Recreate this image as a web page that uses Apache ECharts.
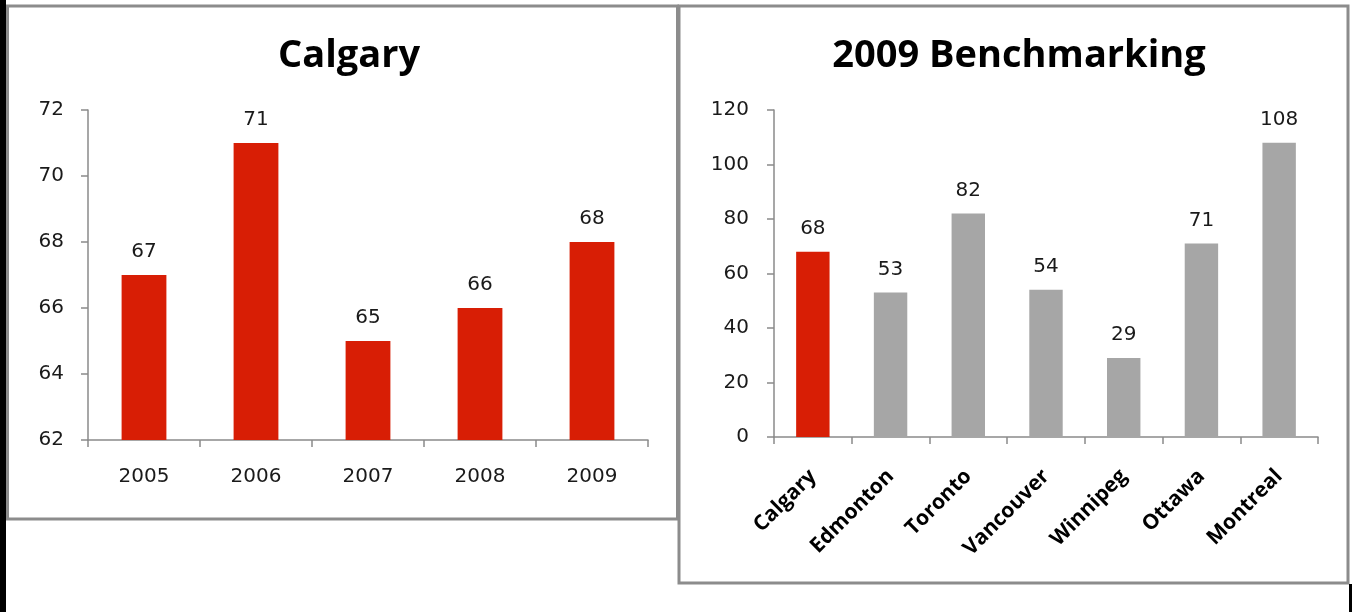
<!DOCTYPE html>
<html>
<head>
<meta charset="utf-8">
<script src="https://cdn.jsdelivr.net/npm/echarts@6/dist/echarts.min.js"></script>
<style>
  html, body { margin: 0; padding: 0; background: #ffffff; }
  #chart { width: 1352px; height: 612px; }
</style>
</head>
<body>
<div id="chart"></div>
<script>
// Calgary yearly values
const years = ['2005', '2006', '2007', '2008', '2009'];
const calgaryValues = [67, 71, 65, 66, 68];

// 2009 city comparison
const cities = ['Calgary', 'Edmonton', 'Toronto', 'Vancouver', 'Winnipeg', 'Ottawa', 'Montreal'];
const cityValues = [68, 53, 82, 54, 29, 71, 108];
const highlightCity = 'Calgary';

const RED = '#d81e05';
const GREY = '#a6a6a6';
const AXIS = '#8a8a8a';
const NUM_FONT = 'DejaVu Sans';
const TITLE_FONT = 'Open Sans';

const chart = echarts.init(document.getElementById('chart'), null, { renderer: 'canvas' });

const numLabel = {
  show: true,
  position: 'top',
  distance: 13,
  color: '#1a1a1a',
  fontFamily: NUM_FONT,
  fontSize: 20
};

chart.setOption({
  backgroundColor: '#ffffff',
  animation: false,
  title: [
    {
      text: 'Calgary',
      left: 344, top: 32, textAlign: 'center',
      textStyle: { fontFamily: TITLE_FONT, fontWeight: 'bold', fontSize: 38, color: '#000' }
    },
    {
      text: '2009 Benchmarking',
      left: 1014, top: 32, textAlign: 'center',
      textStyle: { fontFamily: TITLE_FONT, fontWeight: 'bold', fontSize: 38, color: '#000' }
    }
  ],
  grid: [
    { left: 88, top: 110, width: 560, height: 330 },
    { left: 774, top: 110, width: 544, height: 327 }
  ],
  xAxis: [
    {
      type: 'category', gridIndex: 0, data: years,
      axisLine: { lineStyle: { color: AXIS, width: 1.5 } },
      axisTick: { show: true, length: 7, lineStyle: { color: AXIS, width: 1.5 } },
      axisLabel: { margin: 27, color: '#1a1a1a', fontFamily: NUM_FONT, fontSize: 20 }
    },
    {
      type: 'category', gridIndex: 1, data: cities,
      axisLine: { lineStyle: { color: AXIS, width: 1.5 } },
      axisTick: { show: true, length: 7, lineStyle: { color: AXIS, width: 1.5 } },
      axisLabel: {
        rotate: 45, margin: 36, interval: 0,
        color: '#000', fontFamily: TITLE_FONT, fontWeight: 'bold', fontSize: 21
      }
    }
  ],
  yAxis: [
    {
      type: 'value', gridIndex: 0, min: 62, max: 72, interval: 2,
      axisLine: { show: true, lineStyle: { color: AXIS, width: 1.5 } },
      axisTick: { show: true, length: 7, lineStyle: { color: AXIS, width: 1.5 } },
      splitLine: { show: false },
      axisLabel: { margin: 24, color: '#1a1a1a', fontFamily: NUM_FONT, fontSize: 20 }
    },
    {
      type: 'value', gridIndex: 1, min: 0, max: 120, interval: 20,
      axisLine: { show: true, lineStyle: { color: AXIS, width: 1.5 } },
      axisTick: { show: true, length: 7, lineStyle: { color: AXIS, width: 1.5 } },
      splitLine: { show: false },
      axisLabel: { margin: 25, color: '#1a1a1a', fontFamily: NUM_FONT, fontSize: 20 }
    }
  ],
  series: [
    {
      type: 'bar', xAxisIndex: 0, yAxisIndex: 0,
      data: calgaryValues,
      barWidth: '40%',
      itemStyle: { color: RED },
      label: numLabel
    },
    {
      type: 'bar', xAxisIndex: 1, yAxisIndex: 1,
      data: cityValues.map((v, i) => ({
        value: v,
        itemStyle: { color: cities[i] === highlightCity ? RED : GREY }
      })),
      barWidth: '43%',
      label: numLabel
    }
  ],
  graphic: [
    // panel frames
    { type: 'rect', shape: { x: 7.5, y: 6, width: 670, height: 513 },
      style: { fill: 'none', stroke: '#8c8c8c', lineWidth: 3 }, z: 100 },
    { type: 'rect', shape: { x: 679, y: 6, width: 669, height: 577 },
      style: { fill: 'none', stroke: '#8c8c8c', lineWidth: 3 }, z: 100 },
    // outer black edges
    { type: 'rect', shape: { x: 0, y: 0, width: 6, height: 612 },
      style: { fill: '#000' }, z: 101 },
    { type: 'rect', shape: { x: 1349, y: 584, width: 3, height: 28 },
      style: { fill: '#000' }, z: 101 }
  ]
});
</script>
</body>
</html>
